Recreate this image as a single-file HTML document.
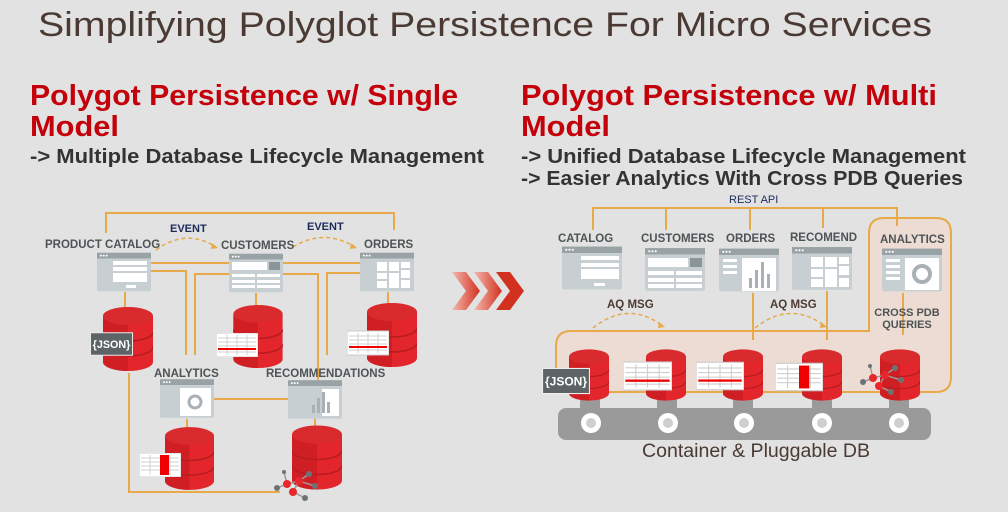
<!DOCTYPE html>
<html><head><meta charset="utf-8"><style>
html,body{margin:0;padding:0;background:#e1e2e1;}
svg{display:block;font-family:"Liberation Sans",sans-serif;}
</style></head><body>
<svg width="1008" height="512" viewBox="0 0 1008 512" xmlns="http://www.w3.org/2000/svg">
<defs>
<symbol id="cyl" viewBox="0 0 50 64">
<path d="M0,9 L0,55 A25,9 0 0 0 50,55 L50,9 Z" fill="#e2262b"/>
<path d="M0,9 L0,55 A25,9 0 0 0 25,64 L25,18 A25,9 0 0 1 0,9Z" fill="#d01f24"/>
<ellipse cx="25" cy="9" rx="25" ry="9" fill="#d92a2e"/>
<path d="M0,25 A25,9 0 0 0 50,25" fill="none" stroke="#b81b20" stroke-width="1.5"/>
<path d="M0,40 A25,9 0 0 0 50,40" fill="none" stroke="#b81b20" stroke-width="1.5"/>
</symbol>
<symbol id="tbl" viewBox="0 0 42 24">
<rect x="0" y="0" width="42" height="24" fill="#fff" stroke="#ccc"/>
<g stroke="#d0d0d0" stroke-width="1"><line x1="2" y1="5" x2="40" y2="5"/><line x1="2" y1="9" x2="40" y2="9"/><line x1="2" y1="13" x2="40" y2="13"/><line x1="2" y1="19" x2="40" y2="19"/><line x1="11" y1="2" x2="11" y2="22"/><line x1="21" y1="2" x2="21" y2="22"/><line x1="31" y1="2" x2="31" y2="22"/></g>
<rect x="2" y="15" width="38" height="2" fill="#e00"/>
</symbol>
<symbol id="tblv" viewBox="0 0 42 24">
<rect x="0" y="0" width="42" height="24" fill="#fff" stroke="#ccc"/>
<g stroke="#d0d0d0" stroke-width="1"><line x1="2" y1="5" x2="40" y2="5"/><line x1="2" y1="9" x2="40" y2="9"/><line x1="2" y1="13" x2="40" y2="13"/><line x1="2" y1="17" x2="40" y2="17"/><line x1="11" y1="2" x2="11" y2="22"/><line x1="31" y1="2" x2="31" y2="22"/></g>
<rect x="21" y="2" width="9" height="20" fill="#e00"/>
</symbol>
<symbol id="json" viewBox="0 0 44 24">
<rect x="0.5" y="0.5" width="43" height="23" fill="#5d6466" stroke="#eee"/>
<text x="22" y="16" font-size="11" font-weight="bold" fill="#fff" text-anchor="middle">{JSON}</text>
</symbol>
<symbol id="win" viewBox="0 0 56 40">
<rect width="56" height="40" rx="2" fill="#c7cfd2"/>
<rect width="56" height="6" fill="#99a3a6"/>
<circle cx="4" cy="3" r="1" fill="#fff"/><circle cx="7" cy="3" r="1" fill="#fff"/><circle cx="10" cy="3" r="1" fill="#fff"/>
</symbol>
<symbol id="graph" viewBox="0 0 50 40">
<g stroke="#999" stroke-width="1.5"><line x1="15" y1="20" x2="27" y2="17"/><line x1="27" y1="17" x2="21" y2="28"/><line x1="27" y1="17" x2="37" y2="10"/><line x1="27" y1="17" x2="43" y2="22"/><line x1="15" y1="20" x2="5" y2="24"/><line x1="21" y1="28" x2="33" y2="34"/><line x1="15" y1="20" x2="12" y2="8"/></g>
<circle cx="15" cy="20" r="4" fill="#e8262b"/><circle cx="27" cy="17" r="4" fill="#e8262b"/><circle cx="21" cy="28" r="4" fill="#e8262b"/>
<circle cx="37" cy="10" r="3" fill="#6b7377"/><circle cx="43" cy="22" r="3" fill="#6b7377"/><circle cx="5" cy="24" r="3" fill="#6b7377"/><circle cx="33" cy="34" r="3" fill="#6b7377"/><circle cx="12" cy="8" r="2" fill="#6b7377"/>
</symbol>
<linearGradient id="chev" x1="0" x2="1"><stop offset="0" stop-color="#f3b7ad"/><stop offset="1" stop-color="#d2311f"/></linearGradient>
</defs>

<!-- Titles -->
<text x="38" y="36" font-size="34" fill="#4a3a33" textLength="894" lengthAdjust="spacingAndGlyphs">Simplifying Polyglot Persistence For Micro Services</text>
<g fill="#c4000a" font-weight="bold" font-size="29">
<text x="30" y="105" textLength="428" lengthAdjust="spacingAndGlyphs">Polygot Persistence w/ Single</text>
<text x="30" y="136" textLength="89" lengthAdjust="spacingAndGlyphs">Model</text>
<text x="521" y="105" textLength="416" lengthAdjust="spacingAndGlyphs">Polygot Persistence w/ Multi</text>
<text x="521" y="136" textLength="89" lengthAdjust="spacingAndGlyphs">Model</text>
</g>
<g fill="#333" font-weight="bold" font-size="20">
<text x="30" y="163" textLength="454" lengthAdjust="spacingAndGlyphs">-&gt; Multiple Database Lifecycle Management</text>
<text x="521" y="163" textLength="445" lengthAdjust="spacingAndGlyphs">-&gt; Unified Database Lifecycle Management</text>
<text x="521" y="185" textLength="442" lengthAdjust="spacingAndGlyphs">-&gt; Easier Analytics With Cross PDB Queries</text>
</g>

<!-- LEFT diagram lines -->
<g fill="none" stroke="#e8a94a" stroke-width="2">
<path d="M106,233 V213 H394 V230"/>
<path d="M151,263 H360"/>
<path d="M151,271 H186 V355"/>
<path d="M195,355 V274 H229"/>
<path d="M283,274 H318 V380"/>
<path d="M327,355 V273 H360"/>
<path d="M125,292 V310"/><path d="M256,293 V315"/><path d="M388,292 V310"/>
<path d="M214,399 H288"/>
<path d="M187,419 V430"/><path d="M315,419 V430"/>
<path d="M129,373 V492 H280"/>
</g>
<g fill="none" stroke="#e8a94a" stroke-width="1.5" stroke-dasharray="4,3">
<path d="M156,250 Q186,228 216,247"/><path d="M293,247 Q324,228 355,247"/>
</g>
<path d="M212,243 L218,248 L211,249Z" fill="#e8a94a"/><path d="M351,243 L357,248 L350,249Z" fill="#e8a94a"/>
<g font-weight="bold" font-size="11" fill="#1d2b5c"><text x="170" y="232">EVENT</text><text x="307" y="230">EVENT</text></g>
<g font-weight="bold" font-size="11.5" fill="#4e5456">
<text x="45" y="248">PRODUCT CATALOG</text>
<text x="221" y="249">CUSTOMERS</text>
<text x="364" y="248">ORDERS</text>
<text x="154" y="377">ANALYTICS</text>
<text x="266" y="377">RECOMMENDATIONS</text>
</g>
<use href="#win" x="97" y="252" width="54" height="40"/>
<use href="#win" x="229" y="253" width="54" height="40"/>
<use href="#win" x="360" y="252" width="54" height="40"/>
<use href="#win" x="160" y="379" width="54" height="39"/>
<use href="#win" x="288" y="380" width="54" height="39"/>
<!-- window contents left -->
<g fill="#fff">
<rect x="113" y="261" width="34" height="4"/><rect x="113" y="267" width="34" height="4"/><rect x="113" y="273" width="34" height="9"/><rect x="126" y="285" width="10" height="3"/>
<rect x="232" y="262" width="35" height="8"/><rect x="269" y="262" width="11" height="8" fill="#8a9597"/>
<rect x="232" y="274" width="23" height="3"/><rect x="257" y="274" width="23" height="3"/><rect x="232" y="280" width="23" height="3"/><rect x="257" y="280" width="23" height="3"/><rect x="232" y="285" width="23" height="3"/><rect x="257" y="285" width="23" height="3"/>
<rect x="377" y="262" width="10" height="9"/><rect x="389" y="262" width="10" height="9"/><rect x="401" y="262" width="9" height="6"/><rect x="377" y="273" width="10" height="6"/><rect x="389" y="273" width="10" height="15"/><rect x="401" y="270" width="9" height="8"/><rect x="377" y="281" width="10" height="7"/><rect x="401" y="280" width="9" height="8"/>
<rect x="180" y="388" width="31" height="28"/><rect x="322" y="389" width="17" height="27"/>
</g>
<circle cx="195" cy="402" r="6" fill="none" stroke="#a9b1b4" stroke-width="3"/>
<g fill="#a9b1b4"><rect x="312" y="405" width="3" height="8"/><rect x="317" y="398" width="3" height="15"/><rect x="322" y="392" width="3" height="21"/><rect x="327" y="402" width="3" height="11"/></g>
<use href="#cyl" x="103" y="307" width="50" height="64"/>
<use href="#cyl" x="233" y="305" width="50" height="63"/>
<use href="#cyl" x="367" y="303" width="50" height="64"/>
<use href="#cyl" x="165" y="427" width="49" height="63"/>
<use href="#cyl" x="292" y="425" width="50" height="65"/>
<use href="#json" x="90" y="332" width="43" height="24"/>
<use href="#tbl" x="216" y="333" width="42" height="24"/>
<use href="#tbl" x="347" y="330" width="42" height="26"/>
<use href="#tblv" x="139" y="453" width="42" height="24"/>
<use href="#graph" x="272" y="464" width="50" height="40"/>

<!-- chevrons -->
<g fill="url(#chev)">
<path d="M452,272 H466 L480,291 L466,310 H452 L466,291Z"/>
<path d="M474,272 H488 L502,291 L488,310 H474 L488,291Z"/>
<path d="M496,272 H510 L524,291 L510,310 H496 L510,291Z" fill="#d2311f"/>
</g>

<!-- RIGHT diagram -->
<path d="M571,331 L869,331 L869,233 Q869,218 884,218 L936,218 Q951,218 951,233 L951,377 Q951,392 936,392 L571,392 Q556,392 556,377 L556,346 Q556,331 571,331 Z" fill="#ecdcd4" stroke="#e8a94a" stroke-width="2"/>
<g fill="none" stroke="#e8a94a" stroke-width="2">
<path d="M593,230 V208 H897 V226"/>
<path d="M666,208 V230"/><path d="M750,208 V230"/><path d="M823,208 V228"/>
<path d="M753,293 V340"/><path d="M827,291 V340"/><path d="M903,293 V335"/>
</g>
<g fill="none" stroke="#e8a94a" stroke-width="1.5" stroke-dasharray="4,3">
<path d="M593,328 Q628,300 663,326"/><path d="M755,328 Q790,300 825,326"/>
</g>
<path d="M659,322 L665,327 L658,328Z" fill="#e8a94a"/><path d="M821,322 L827,327 L820,328Z" fill="#e8a94a"/>
<text x="729" y="203" font-size="11" fill="#1d2b5c">REST API</text>
<g font-weight="bold" font-size="11.5" fill="#4e5456">
<text x="558" y="242">CATALOG</text>
<text x="641" y="242">CUSTOMERS</text>
<text x="726" y="242">ORDERS</text>
<text x="790" y="241">RECOMEND</text>
<text x="880" y="243">ANALYTICS</text>
<text x="907" y="316" text-anchor="middle" font-size="11">CROSS PDB</text>
<text x="907" y="328" text-anchor="middle" font-size="11">QUERIES</text>
</g>
<g font-weight="bold" font-size="11.5" fill="#4e3a33"><text x="607" y="308">AQ MSG</text><text x="770" y="308">AQ MSG</text></g>
<use href="#win" x="562" y="245" width="60" height="46"/>
<use href="#win" x="645" y="247" width="60" height="45"/>
<use href="#win" x="719" y="247" width="60" height="46"/>
<use href="#win" x="792" y="246" width="60" height="45"/>
<use href="#win" x="882" y="247" width="60" height="46"/>
<g fill="#fff">
<rect x="581" y="256" width="38" height="4"/><rect x="581" y="263" width="38" height="4"/><rect x="581" y="269" width="38" height="10"/><rect x="594" y="283" width="11" height="3"/>
<rect x="648" y="258" width="40" height="9"/><rect x="690" y="258" width="12" height="9" fill="#8a9597"/>
<rect x="648" y="271" width="26" height="4"/><rect x="676" y="271" width="26" height="4"/><rect x="648" y="278" width="26" height="4"/><rect x="676" y="278" width="26" height="4"/><rect x="648" y="284" width="26" height="4"/><rect x="676" y="284" width="26" height="4"/>
<rect x="742" y="258" width="34" height="33"/>
<rect x="811" y="257" width="12" height="10"/><rect x="825" y="257" width="12" height="10"/><rect x="839" y="257" width="10" height="7"/><rect x="811" y="269" width="12" height="8"/><rect x="825" y="269" width="12" height="18"/><rect x="839" y="266" width="10" height="9"/><rect x="811" y="279" width="12" height="8"/><rect x="839" y="278" width="10" height="9"/>
<rect x="905" y="258" width="34" height="32"/>
</g>
<g fill="#fff"><rect x="723" y="259" width="14" height="3"/><rect x="723" y="265" width="14" height="3"/><rect x="723" y="271" width="14" height="3"/><rect x="886" y="259" width="14" height="3"/><rect x="886" y="265" width="14" height="3"/><rect x="886" y="271" width="14" height="3"/><rect x="886" y="277" width="14" height="3"/></g>
<g fill="#a9b1b4"><rect x="749" y="278" width="3" height="10"/><rect x="755" y="270" width="3" height="18"/><rect x="761" y="262" width="3" height="26"/><rect x="767" y="274" width="3" height="14"/></g>
<circle cx="922" cy="274" r="8" fill="none" stroke="#a9b1b4" stroke-width="4"/>
<!-- conveyor -->
<rect x="558" y="408" width="373" height="32" rx="8" fill="#9a9a9a"/>
<g fill="#9a9a9a"><rect x="580" y="398" width="20" height="12"/><rect x="657" y="398" width="20" height="12"/><rect x="733" y="398" width="20" height="12"/><rect x="812" y="398" width="20" height="12"/><rect x="889" y="398" width="20" height="12"/></g>
<g fill="#fff"><circle cx="591" cy="423" r="10"/><circle cx="668" cy="423" r="10"/><circle cx="744" cy="423" r="10"/><circle cx="822" cy="423" r="10"/><circle cx="899" cy="423" r="10"/></g>
<g fill="#cfcfcf"><circle cx="591" cy="423" r="5"/><circle cx="668" cy="423" r="5"/><circle cx="744" cy="423" r="5"/><circle cx="822" cy="423" r="5"/><circle cx="899" cy="423" r="5"/></g>
<use href="#cyl" x="569" y="348" width="40" height="54"/>
<use href="#cyl" x="646" y="348" width="40" height="54"/>
<use href="#cyl" x="723" y="348" width="40" height="54"/>
<use href="#cyl" x="802" y="348" width="40" height="54"/>
<use href="#cyl" x="880" y="348" width="40" height="54"/>
<use href="#json" x="542" y="367" width="48" height="28"/>
<use href="#tbl" x="623" y="361" width="49" height="30"/>
<use href="#tbl" x="696" y="361" width="48" height="30"/>
<use href="#tblv" x="775" y="362" width="48" height="30"/>
<use href="#graph" x="858" y="358" width="50" height="40"/>
<text x="642" y="457" font-size="19" fill="#4a3a33" textLength="228" lengthAdjust="spacingAndGlyphs">Container &amp; Pluggable DB</text>
</svg>
</body></html>
